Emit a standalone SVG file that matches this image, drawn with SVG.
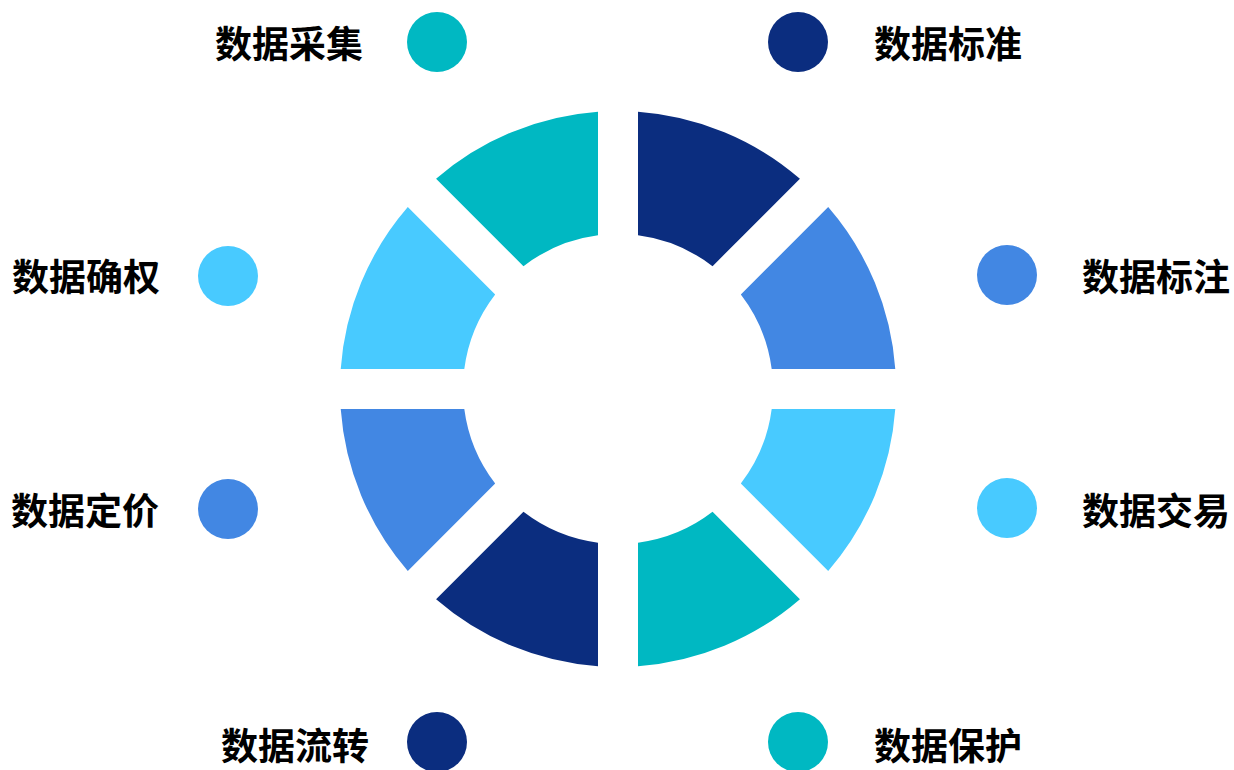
<svg xmlns="http://www.w3.org/2000/svg" xmlns:xlink="http://www.w3.org/1999/xlink" width="1234" height="770" viewBox="0 0 1234 770">
  <defs>
    <path id="seg" d="M 20 -277.28 A 278 278 0 0 1 181.93 -210.21 L 94.54 -122.83 A 155 155 0 0 0 20 -153.70 Z"/>
    <style>
      .navy { fill: #0B2D7F; }
      .mid { fill: #4287E3; }
      .light { fill: #48CAFF; }
      .teal { fill: #00B8C2; }
      .lbl { font-family: "Noto Sans CJK SC", "Liberation Sans", sans-serif; font-size: 37px; font-weight: 700; fill: #000000; dominant-baseline: central; }
    </style>
  </defs>
  <rect width="1234" height="770" fill="#FFFFFF"/>

  <g id="ring">
    <use id="seg-standard" href="#seg" class="navy" transform="matrix(1,0,0,1,618,389)"/>
    <use id="seg-annotate" href="#seg" class="mid" transform="matrix(0,-1,-1,0,618,389)"/>
    <use id="seg-trade" href="#seg" class="light" transform="translate(618,389) rotate(90)"/>
    <use id="seg-protect" href="#seg" class="teal" transform="translate(618,389) rotate(90) matrix(0,-1,-1,0,0,0)"/>
    <use id="seg-flow" href="#seg" class="navy" transform="translate(618,389) rotate(180)"/>
    <use id="seg-price" href="#seg" class="mid" transform="translate(618,389) rotate(180) matrix(0,-1,-1,0,0,0)"/>
    <use id="seg-rights" href="#seg" class="light" transform="translate(618,389) rotate(270)"/>
    <use id="seg-collect" href="#seg" class="teal" transform="translate(618,389) rotate(270) matrix(0,-1,-1,0,0,0)"/>
  </g>

  <g id="node-collect">
    <circle cx="437" cy="42" r="30" class="teal"/>
    <text x="215" y="42" class="lbl">数据采集</text>
  </g>
  <g id="node-standard">
    <circle cx="798" cy="42" r="30" class="navy"/>
    <text x="874" y="42" class="lbl">数据标准</text>
  </g>
  <g id="node-rights">
    <circle cx="228" cy="276" r="30" class="light"/>
    <text x="12" y="275" class="lbl">数据确权</text>
  </g>
  <g id="node-annotate">
    <circle cx="1007" cy="275" r="30" class="mid"/>
    <text x="1082" y="275" class="lbl">数据标注</text>
  </g>
  <g id="node-price">
    <circle cx="228" cy="509" r="30" class="mid"/>
    <text x="11" y="508.5" class="lbl">数据定价</text>
  </g>
  <g id="node-trade">
    <circle cx="1007" cy="508" r="30" class="light"/>
    <text x="1082" y="508.5" class="lbl">数据交易</text>
  </g>
  <g id="node-flow">
    <circle cx="437" cy="742" r="30" class="navy"/>
    <text x="221" y="743.5" class="lbl">数据流转</text>
  </g>
  <g id="node-protect">
    <circle cx="798" cy="742" r="30" class="teal"/>
    <text x="874" y="743.5" class="lbl">数据保护</text>
  </g>

  <g id="connectors"></g>
</svg>
